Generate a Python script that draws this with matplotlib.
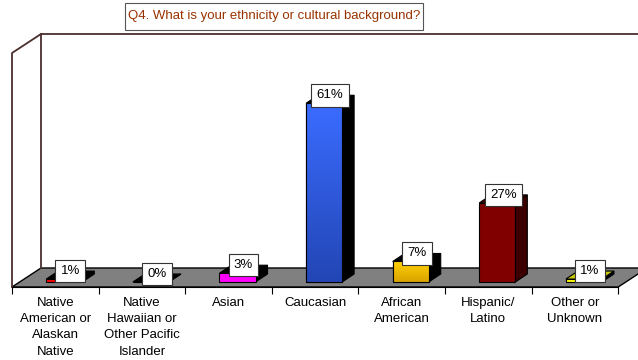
import numpy as np
import matplotlib
matplotlib.use('Agg')
import matplotlib.pyplot as plt
from matplotlib.patches import Polygon, Rectangle
from matplotlib.colors import LinearSegmentedColormap

plt.rcParams['font.family'] = ['Liberation Sans', 'DejaVu Sans']

# data
title = 'Q4. What is your ethnicity or cultural background?'
categories = ['Native\nAmerican or\nAlaskan\nNative',
              'Native\nHawaiian or\nOther Pacific\nIslander',
              'Asian', 'Caucasian', 'African\nAmerican',
              'Hispanic/\nLatino', 'Other or\nUnknown']
percent = [1, 0, 3, 61, 7, 27, 1]
value_labels = ['1%', '0%', '3%', '61%', '7%', '27%', '1%']

# colours (front top / front bottom / side / top)
c_front_top = ['#FF0000', '#000000', '#FF00FF', '#3A6CFF', '#FFD200', '#800000', '#FFFF00']
c_front_bot = ['#FF0000', '#000000', '#FF00FF', '#2346B5', '#D9A300', '#800000', '#FFFF00']
c_side = ['#000000', '#000000', '#000000', '#000000', '#000000', '#3C0000', '#000000']
c_top = ['#000000', '#000000', '#000000', '#000000', '#000000', '#500000', '#C8C800']

# geometry (pixels -> data units)
px_x = 86.6   # px per category
px_y = 2.93   # px per percent
dx, dy = 12 / px_x, 8 / px_y          # bar depth
fdx, fdy = 29 / px_x, 19 / px_y       # floor depth
floor_front = -5 / px_y
wall_top = 248 / px_y
edge = '#4A2E2E'

fig = plt.figure(figsize=(6.38, 3.6), dpi=100)
ax = fig.add_axes([0, 0, 1, 1])
ax.patch.set_visible(False)

n = len(categories)
# floor
ax.add_patch(Polygon([(-0.5, floor_front), (-0.5 + fdx, floor_front + fdy),
                      (n - 0.5 + fdx, floor_front + fdy), (n - 0.5, floor_front)],
                     closed=True, fc='#808080', ec='black', lw=1, zorder=1, clip_on=False))
# walls
ax.plot([-0.5 + fdx, -0.5 + fdx, 10], [floor_front + fdy, wall_top, wall_top],
        color=edge, lw=1.3, zorder=1, clip_on=False)
ax.plot([-0.5, -0.5, -0.5 + fdx], [floor_front, wall_top - fdy, wall_top],
        color=edge, lw=1.3, zorder=1, clip_on=False)

# bars
xs = np.arange(n) + 0.104
w = 0.416
bars = ax.bar(xs, percent, width=w, color=c_front_top, edgecolor='black', lw=0.8, zorder=3)
for i, (b, v) in enumerate(zip(bars, percent)):
    x0, x1 = xs[i] - w / 2, xs[i] + w / 2
    if v > 0 and c_front_top[i] != c_front_bot[i]:
        cmap = LinearSegmentedColormap.from_list('g', [c_front_bot[i], c_front_top[i]])
        im = ax.imshow(np.linspace(0, 1, 100).reshape(-1, 1), cmap=cmap, origin='lower',
                       extent=[x0, x1, 0, v], aspect='auto', zorder=3.1)
        im.set_clip_path(b)
        ax.add_patch(Rectangle((x0, 0), w, v, fc='none', ec='black', lw=0.8, zorder=3.2))
    ax.add_patch(Polygon([(x1, 0), (x1 + dx, dy), (x1 + dx, v + dy), (x1, v)],
                         closed=True, fc=c_side[i], ec='black', lw=0.8, zorder=2.9))
    ax.add_patch(Polygon([(x0, v), (x0 + dx, v + dy), (x1 + dx, v + dy), (x1, v)],
                         closed=True, fc=c_top[i], ec='black', lw=0.8, zorder=2.9))
    ax.text(xs[i] + dx / 2, v + dy, value_labels[i], ha='center', va='center',
            fontsize=9.5, zorder=5,
            bbox=dict(boxstyle='square,pad=0.4', fc='white', ec='#333333', lw=0.8))
ax.set_xlim(-0.5 - 12 / px_x, -0.5 + 626 / px_x)
ax.set_ylim(-78 / px_y, 282 / px_y)

# axis with tick marks between categories
for s in ['top', 'right', 'left']:
    ax.spines[s].set_visible(False)
ax.spines['bottom'].set_position(('data', floor_front))
ax.spines['bottom'].set_bounds(-0.5, n - 0.5)
ax.spines['bottom'].set_linewidth(0.8)
ax.set_yticks([])
ax.set_xticks(np.arange(-0.5, n, 1))
ax.set_xticklabels([''] * (n + 1))
ax.tick_params(axis='x', which='major', length=5, width=0.8, direction='out')
ax.set_xticks(np.arange(n), minor=True)
ax.set_xticklabels(categories, minor=True, fontsize=9.5, linespacing=1.48)
ax.tick_params(axis='x', which='minor', length=0, pad=7)

# title box
fig.patches.append(Rectangle((125 / 638, 1 - 30 / 360), 298 / 638, 27 / 360,
                             transform=fig.transFigure, fc='white', ec='#555555', lw=0.8))
fig.text(274 / 638, 1 - 16.5 / 360, title, ha='center', va='center',
         color='#993300', fontsize=9.5)

fig.savefig('out.png', dpi=100)
